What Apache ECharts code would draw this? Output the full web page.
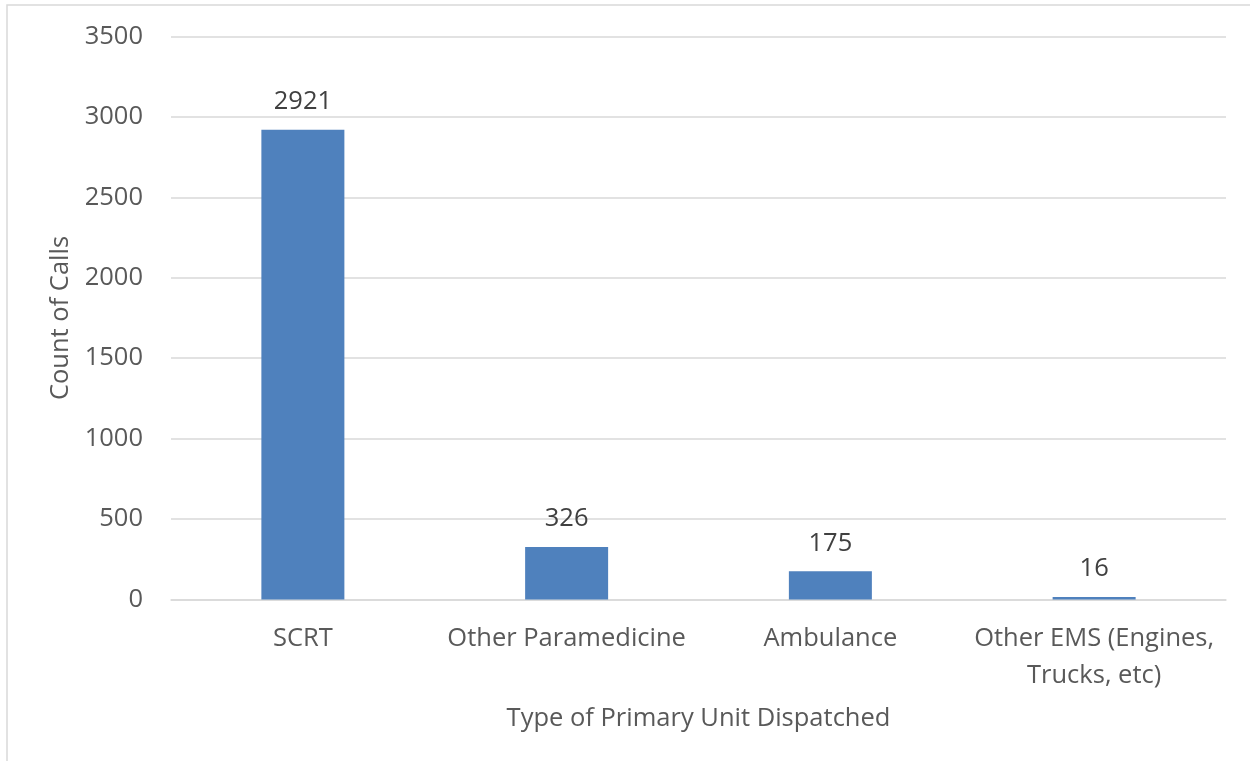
<!DOCTYPE html>
<html><head><meta charset="utf-8">
<script src="https://cdn.jsdelivr.net/npm/echarts@6/dist/echarts.min.js"></script>
<style>html,body{margin:0;padding:0;background:#fff}#c{width:1250px;height:761px}</style>
</head><body><div id="c"></div>
<script>
const categories = ["SCRT", "Other Paramedicine", "Ambulance", "Other EMS (Engines,\nTrucks, etc)"];
const counts = [2921, 326, 175, 16];
const yTicks = { min: 0, max: 3500, interval: 500 };
const xTitle = "Type of Primary Unit Dispatched";
const yTitle = "Count of Calls";

const chart = echarts.init(document.getElementById('c'), null, {renderer: 'canvas'});
const font = "'Open Sans', sans-serif";
const fs = 25.5;
chart.setOption({
  animation: false,
  backgroundColor: '#fff',
  graphic: [{ type: 'rect', shape: {x: 7, y: 5, width: 1300, height: 800}, style: {fill: 'none', stroke: '#d9d9d9', lineWidth: 1.5}, silent: true }],
  grid: { left: 171, right: 24, top: 36.5, bottom: 161.5 },
  xAxis: {
    type: 'category', data: categories,
    axisLine: { lineStyle: { color: '#d9d9d9', width: 1.5 } },
    axisTick: { show: false },
    axisLabel: { color: '#595959', fontFamily: font, fontSize: fs, margin: 21, lineHeight: 37, interval: 0 },
    name: xTitle, nameLocation: 'middle', nameGap: 106,
    nameTextStyle: { color: '#595959', fontFamily: font, fontSize: fs }
  },
  yAxis: {
    type: 'value', min: yTicks.min, max: yTicks.max, interval: yTicks.interval,
    axisLine: { show: false }, axisTick: { show: false },
    splitLine: { lineStyle: { color: '#d9d9d9', width: 1.5 } },
    axisLabel: { color: '#595959', fontFamily: font, fontSize: fs, margin: 28, formatter: v => String(v) },
    name: yTitle, nameLocation: 'middle', nameGap: 96, nameRotate: 90,
    nameTextStyle: { color: '#595959', fontFamily: font, fontSize: fs }
  },
  series: [{
    type: 'bar', data: counts, barWidth: 83,
    itemStyle: { color: '#4f81bd' },
    label: { show: true, position: 'top', distance: 15, color: '#404040', fontFamily: font, fontSize: fs }
  }]
});
</script></body></html>
